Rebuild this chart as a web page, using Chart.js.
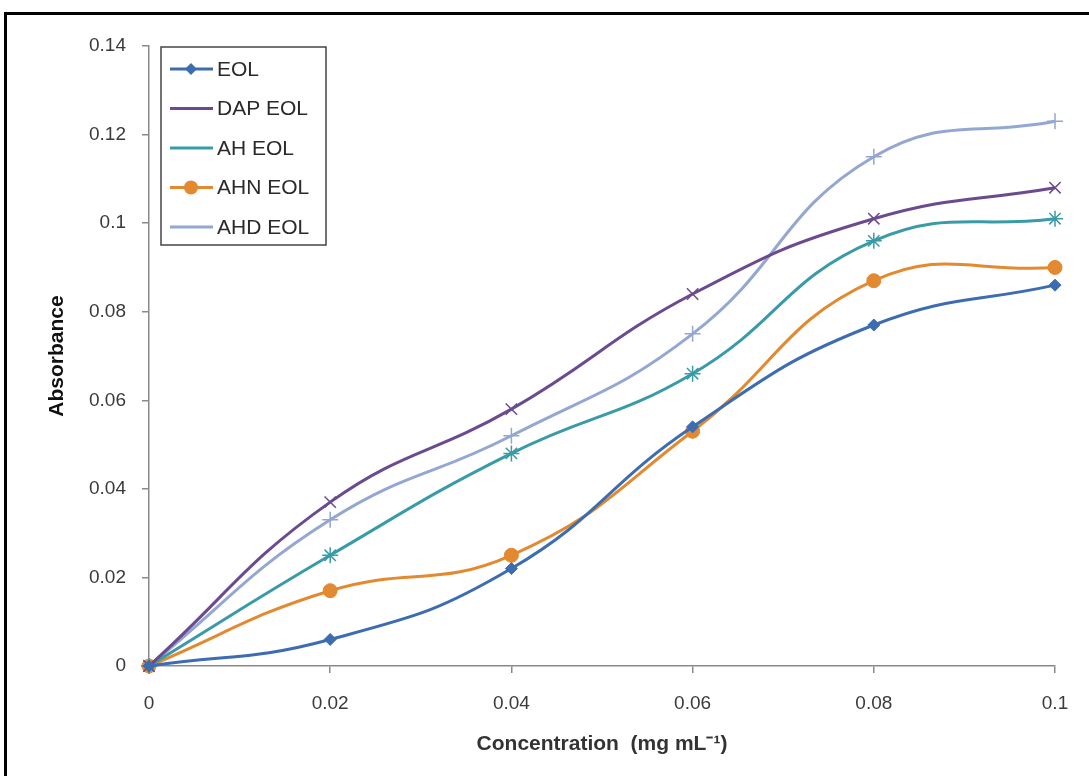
<!DOCTYPE html>
<html><head><meta charset="utf-8">
<script src="https://cdn.jsdelivr.net/npm/chart.js@4.4.1/dist/chart.umd.min.js"></script>
<style>html,body{margin:0;padding:0;background:#fff;}#wrap{width:1089px;height:776px;position:relative;}</style>
</head><body><div id="wrap"><canvas id="c" width="1089" height="776"></canvas></div>
<script>
const concentrations = [0, 0.02, 0.04, 0.06, 0.08, 0.1];
const seriesNames = ["EOL", "DAP EOL", "AH EOL", "AHN EOL", "AHD EOL"];
const eol    = [0, 0.006, 0.022, 0.054, 0.077, 0.086];
const dapEol = [0, 0.037, 0.058, 0.084, 0.101, 0.108];
const ahEol  = [0, 0.025, 0.048, 0.066, 0.096, 0.101];
const ahnEol = [0, 0.017, 0.025, 0.053, 0.087, 0.090];
const ahdEol = [0, 0.033, 0.052, 0.075, 0.115, 0.123];
const yTickLabels = ["0", "0.02", "0.04", "0.06", "0.08", "0.1", "0.12", "0.14"];
const xTickLabels = ["0", "0.02", "0.04", "0.06", "0.08", "0.1"];
const xTitle = "Concentration  (mg mL\u207B\u00B9)";
const yTitle = "Absorbance";

const seriesValues = [eol, dapEol, ahEol, ahnEol, ahdEol];
const colors = ["#3d6db0", "#6b4a8f", "#3a9ba8", "#e3892f", "#93a7d2"];
const styles = [
  {pointStyle:"rectRot", radius:6, fill:true},
  {pointStyle:"crossRot", radius:8, fill:false},
  {pointStyle:"star", radius:8, fill:false},
  {pointStyle:"circle", radius:7, fill:true},
  {pointStyle:"cross", radius:8, fill:false}
];
const FONT = "'Liberation Sans', Arial, sans-serif";

const datasets = seriesNames.map((n,i)=>({
  label:n,
  data: concentrations.map((x,j)=>({x:x,y:seriesValues[i][j]})),
  borderColor: colors[i],
  backgroundColor: colors[i],
  borderWidth: 3,
  pointStyle: styles[i].pointStyle,
  pointRadius: styles[i].radius,
  pointBorderWidth: styles[i].fill ? 1 : 1.5,
  pointBackgroundColor: colors[i],
  pointBorderColor: colors[i],
  tension: 0.45,
  clip: false,
  fill:false
}));

const framePlugin = {
  id:"frame",
  beforeDraw(chart){
    const ctx = chart.ctx;
    ctx.save();
    ctx.fillStyle="#fff";
    ctx.fillRect(0,0,chart.width,chart.height);
    ctx.strokeStyle="#000";
    ctx.lineWidth=3;
    ctx.strokeRect(5.5,13.5,1100,800);
    ctx.restore();
  }
};

const legendPlugin = {
  id:"inlegend",
  afterDraw(chart){
    const ctx = chart.ctx;
    ctx.save();
    const x0=161, y0=47, w=165, h=198;
    ctx.fillStyle="#fff";
    ctx.fillRect(x0,y0,w,h);
    ctx.strokeStyle="#444";
    ctx.lineWidth=1.5;
    ctx.strokeRect(x0,y0,w,h);
    chart.data.datasets.forEach((ds,i)=>{
      const cy = y0 + 22 + i*39.5;
      ctx.strokeStyle = ds.borderColor;
      ctx.lineWidth = 3;
      ctx.beginPath(); ctx.moveTo(170,cy); ctx.lineTo(213,cy); ctx.stroke();
      ctx.fillStyle = ds.pointBackgroundColor;
      ctx.strokeStyle = ds.pointBorderColor;
      ctx.lineWidth = ds.pointBorderWidth;
      Chart.helpers.drawPoint(ctx,{pointStyle:ds.pointStyle, radius:ds.pointRadius, rotation:0}, 191, cy);
      ctx.fillStyle="#2a2a2a";
      ctx.font="21px " + FONT;
      ctx.textBaseline="middle";
      ctx.textAlign="left";
      ctx.fillText(ds.label, 217, cy+1);
    });
    ctx.restore();
  }
};

new Chart(document.getElementById("c"), {
  type:"line",
  data:{datasets},
  plugins:[framePlugin, legendPlugin],
  options:{
    responsive:false,
    animation:false,
    layout:{padding:{left:0, top:46, right:34, bottom:0}},
    plugins:{legend:{display:false}, tooltip:{enabled:false}},
    scales:{
      x:{
        type:"linear", min:0, max:0.1,
        afterFit(s){ s.height = 110; },
        afterBuildTicks(s){ s.ticks = concentrations.map(v=>({value:v})); },
        border:{display:true, color:"#8a8a8a", width:1.5},
        grid:{display:true, drawOnChartArea:false, drawTicks:true, tickLength:7, color:"#8a8a8a", lineWidth:1.5},
        ticks:{color:"#3a3a3a", font:{family:FONT, size:19}, padding:19,
          callback:(v,i)=>xTickLabels[i]},
        title:{display:true, text:xTitle, color:"#333", font:{family:FONT, size:21, weight:"bold"}, padding:{top:0,bottom:19}}
      },
      y:{
        type:"linear", min:0, max:0.14,
        afterFit(s){ s.width = 149; },
        afterBuildTicks(s){ s.ticks = yTickLabels.map((t,i)=>({value:i*0.02})); },
        border:{display:true, color:"#8a8a8a", width:1.5},
        grid:{display:true, drawOnChartArea:false, drawTicks:true, tickLength:7, color:"#8a8a8a", lineWidth:1.5},
        ticks:{color:"#3a3a3a", font:{family:FONT, size:19}, padding:16,
          callback:(v,i)=>yTickLabels[i]},
        title:{display:true, text:yTitle, color:"#111", font:{family:FONT, size:21, weight:"bold"}, padding:{top:45,bottom:0}}
      }
    }
  }
});
</script></body></html>
